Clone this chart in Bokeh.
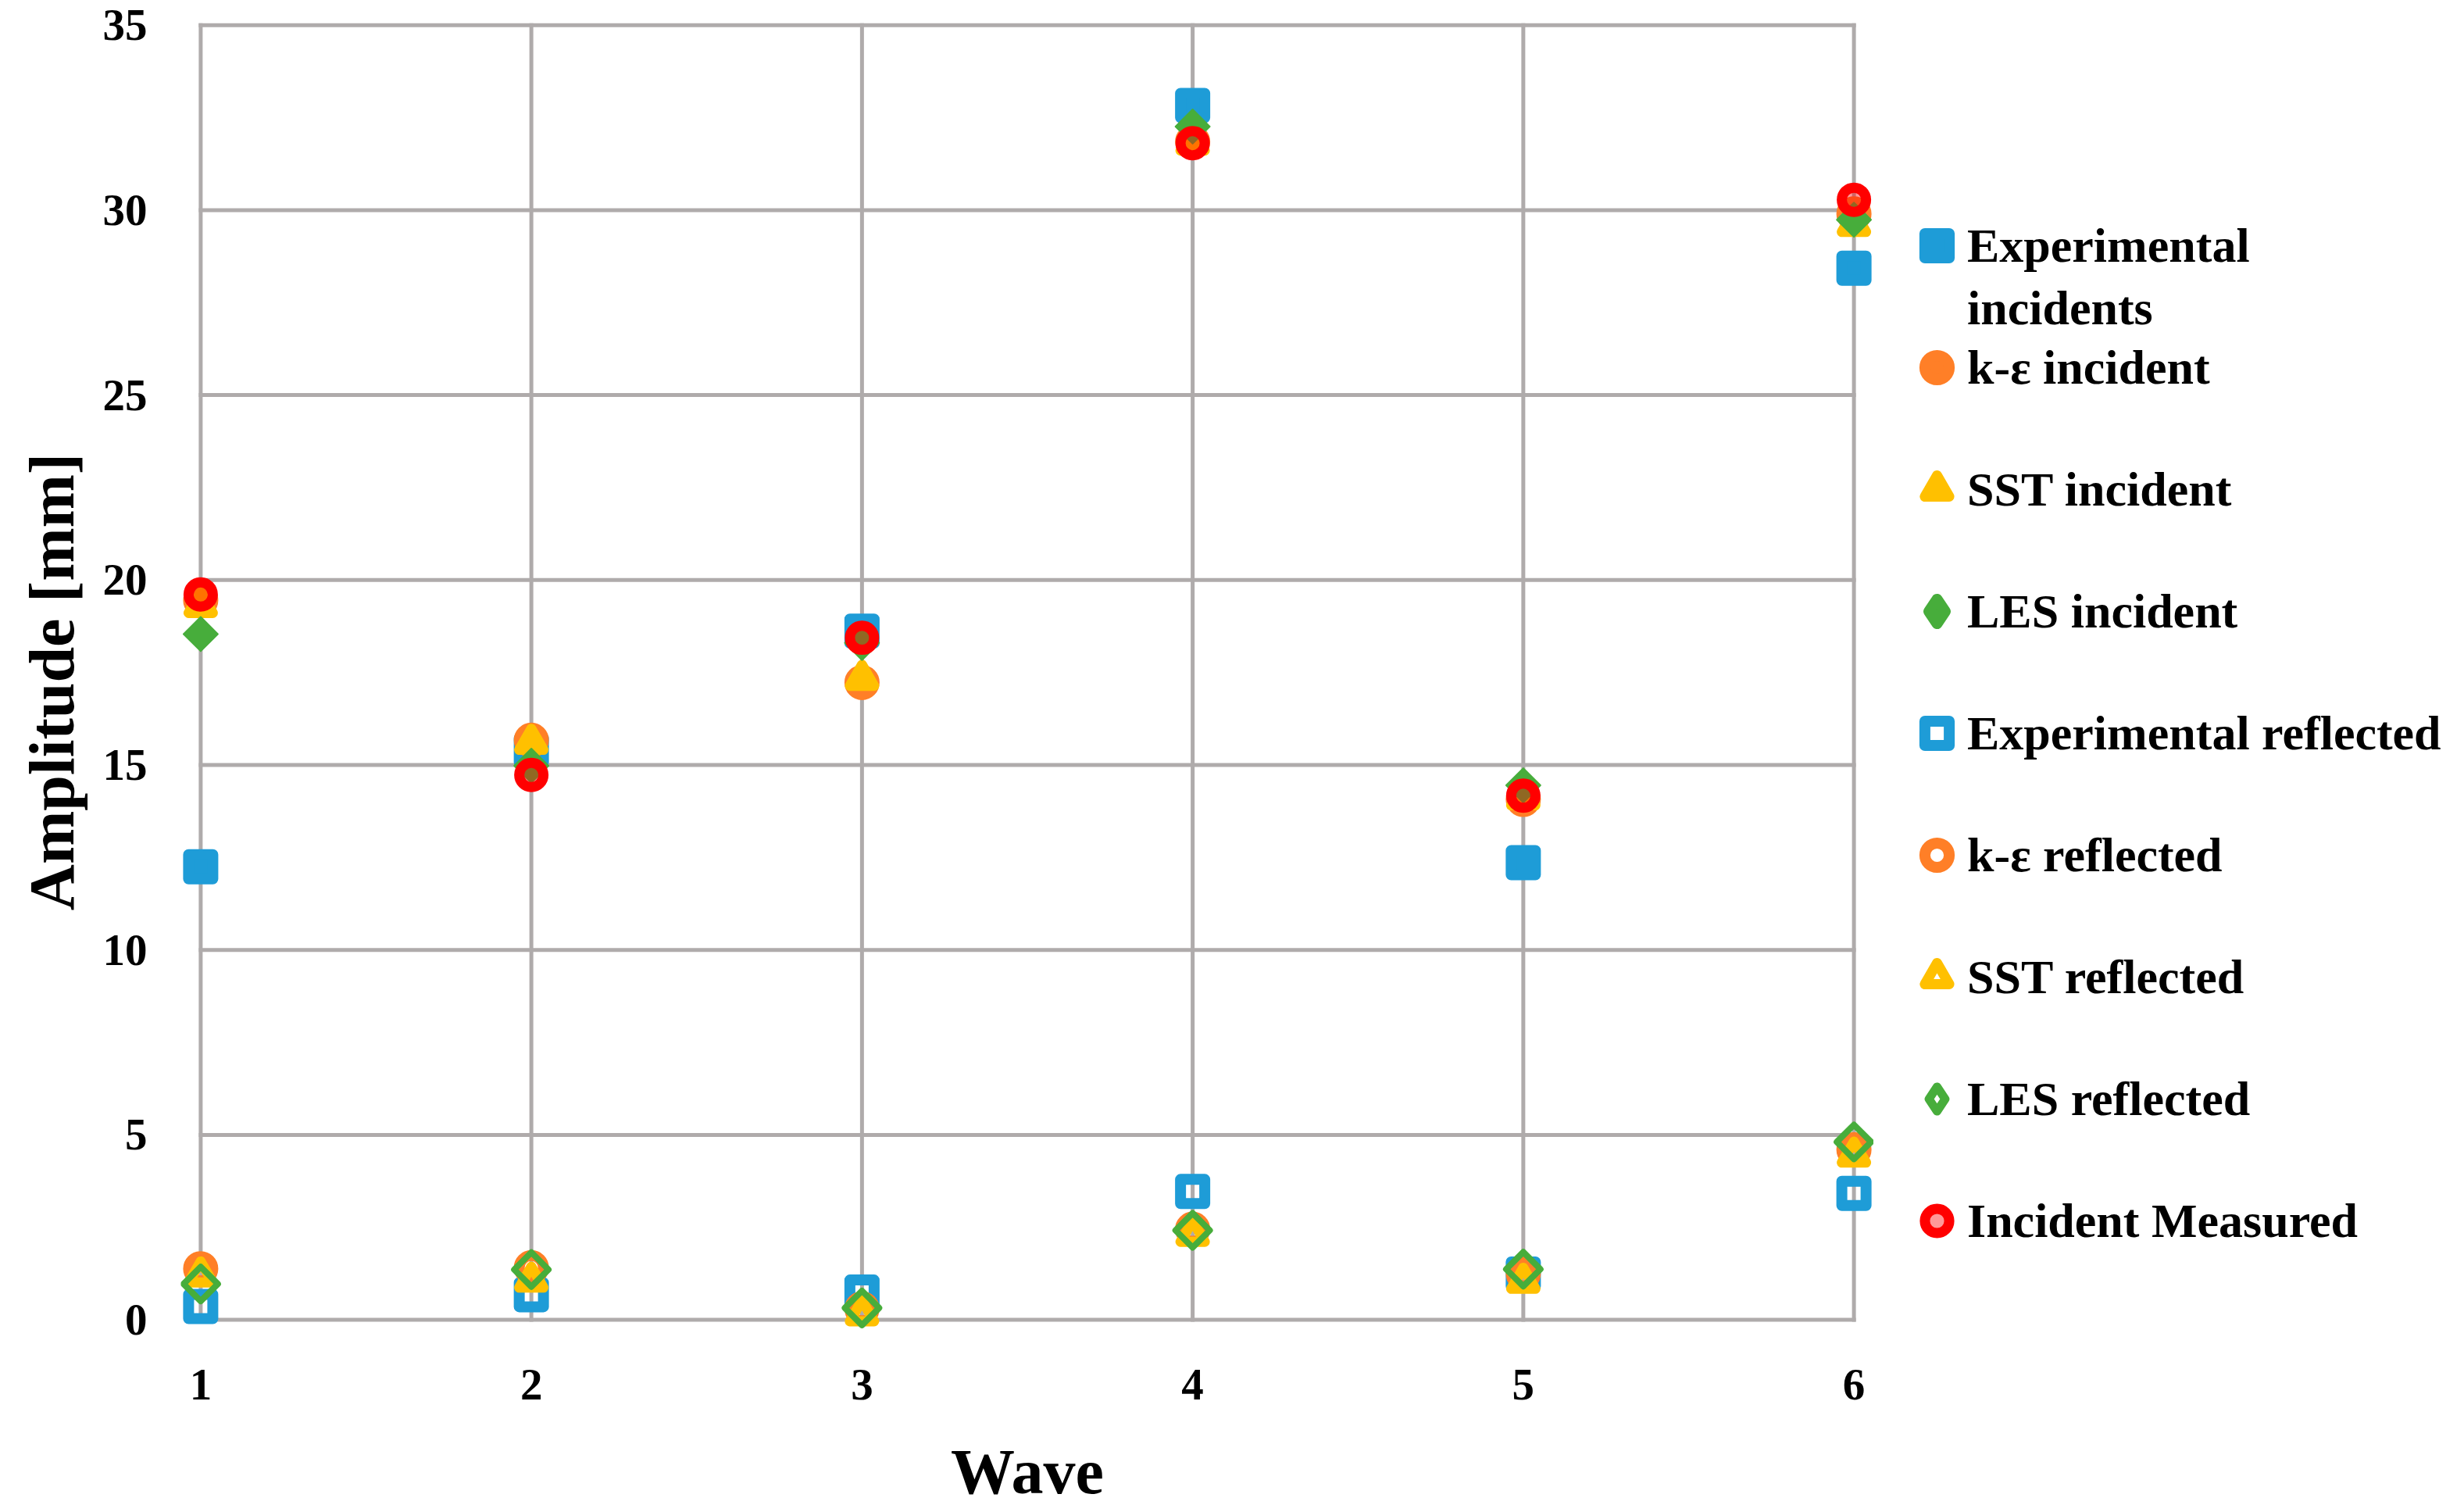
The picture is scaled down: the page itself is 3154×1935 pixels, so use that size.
import numpy as np
from bokeh.plotting import figure
from bokeh.layouts import row
from bokeh.models import Range1d, Legend, LegendItem, FixedTicker
from bokeh.embed import file_html
from bokeh.resources import INLINE

# ---------------- data ----------------
waves = [1, 2, 3, 4, 5, 6]
x_ticks = [1, 2, 3, 4, 5, 6]
y_ticks = [0, 5, 10, 15, 20, 25, 30, 35]

exp_incident = [12.25, 15.4, 18.62, 32.83, 12.36, 28.43]
ke_incident = [19.45, 15.67, 17.23, 31.85, 14.07, 29.9]
sst_incident = [19.3, 15.6, 17.33, 31.8, 14.1, 29.6]
les_incident = [18.54, 14.98, 18.3, 32.26, 14.45, 29.74]
exp_reflected = [0.36, 0.68, 0.75, 3.47, 1.24, 3.42]
ke_reflected = [1.38, 1.41, 0.3, 2.45, 1.25, 4.6]
sst_reflected = [1.2, 1.06, 0.15, 2.3, 1.03, 4.44]
les_reflected = [0.97, 1.36, 0.32, 2.42, 1.37, 4.81]
measured_incident = [19.61, 14.73, 18.44, 31.81, 14.17, 30.28]

labels = ["Experimental incidents", "k-ε incident", "SST incident", "LES incident",
          "Experimental reflected", "k-ε reflected", "SST reflected", "LES reflected",
          "Incident Measured"]

# ---------------- style ----------------
FONT = "Liberation Serif"
GRID = "#AFABAB"
BLUE = "#1E9CD7"
ORANGE = "#FF7F27"
YELLOW = "#FFC000"
GREEN = "#47AD3B"
RED = "#FF0000"
S = 31

series = [exp_incident, ke_incident, sst_incident, les_incident, exp_reflected,
          ke_reflected, sst_reflected, les_reflected, measured_incident]

plot_styles = [
    dict(marker="square", fill_color=BLUE, line_color=BLUE, line_width=14, line_join="round"),
    dict(marker="circle", fill_color=ORANGE, line_color=ORANGE, line_width=14),
    dict(marker="triangle", fill_color=YELLOW, line_color=YELLOW, line_width=13, line_join="round"),
    dict(marker="square", angle=np.pi / 4, fill_color=GREEN, line_color=GREEN, line_width=2,
         line_join="round"),
    dict(marker="square", fill_alpha=0, line_color=BLUE, line_width=14, line_join="round"),
    dict(marker="circle", fill_alpha=0, line_color=ORANGE, line_width=14),
    dict(marker="triangle", fill_alpha=0, line_color=YELLOW, line_width=13, line_join="round"),
    dict(marker="square", angle=np.pi / 4, fill_alpha=0, line_color=GREEN, line_width=8,
         line_join="round"),
    dict(marker="circle", fill_color=RED, fill_alpha=0.4, line_color=RED, line_width=13),
]
legend_styles = list(plot_styles)
legend_styles[3] = dict(marker="diamond", fill_color=GREEN, line_color=GREEN, line_width=14,
                        line_join="round")
legend_styles[7] = dict(marker="diamond", fill_alpha=0, line_color=GREEN, line_width=11,
                        line_join="round")

x_range = Range1d(0.94, 6.06)
y_range = Range1d(-0.6, 35.1)

# ---------------- main plot ----------------
p = figure(width=2398, height=1935, output_backend="svg", toolbar_location=None,
           x_range=x_range, y_range=y_range,
           min_border_left=231, min_border_right=0, min_border_top=27,
           min_border_bottom=218)
p.outline_line_color = None
p.grid.visible = False

p.multi_line(xs=[[x, x] for x in x_ticks], ys=[[y_ticks[0], y_ticks[-1]]] * len(x_ticks),
             line_color=GRID, line_width=5, line_cap="square", level="underlay")
p.multi_line(xs=[[x_ticks[0], x_ticks[-1]]] * len(y_ticks), ys=[[y, y] for y in y_ticks],
             line_color=GRID, line_width=5, line_cap="square", level="underlay")

for ax in (p.xaxis, p.yaxis):
    ax.axis_line_color = None
    ax.major_tick_line_color = None
    ax.minor_tick_line_color = None
    ax.major_label_text_font = FONT
    ax.major_label_text_font_style = "bold"
    ax.major_label_text_font_size = "57px"
    ax.major_label_text_color = "black"
    ax.axis_label_text_font = FONT
    ax.axis_label_text_font_style = "bold"
    ax.axis_label_text_font_size = "82px"
    ax.axis_label_text_color = "black"

p.xaxis.ticker = FixedTicker(ticks=x_ticks)
p.yaxis.ticker = FixedTicker(ticks=y_ticks)
p.xaxis.axis_label = "Wave"
p.yaxis.axis_label = "Amplitude [mm]"
p.xaxis.major_label_standoff = 29
p.yaxis.major_label_standoff = 37
p.xaxis.axis_label_standoff = 44
p.yaxis.axis_label_standoff = 17

for ys, st in zip(series, plot_styles):
    p.scatter(waves, ys, size=S, **st)

# ---------------- legend panel ----------------
p2 = figure(width=752, height=1935, output_backend="svg", toolbar_location=None,
            x_range=x_range, y_range=y_range, x_axis_type=None, y_axis_type=None,
            min_border=0)
p2.outline_line_color = None
p2.grid.visible = False

legend_renderers = [p2.scatter(waves, ys, size=S, visible=False, **st)
                    for ys, st in zip(series, legend_styles)]
# blank glyph for the wrapped second line of the first label
blank = p2.scatter(waves, exp_incident, size=S, visible=False, marker="square",
                   fill_alpha=0, line_alpha=0)

common = dict(orientation="vertical", spacing=0, padding=0, margin=0, label_standoff=0,
              border_line_color=None, background_fill_alpha=0,
              label_text_font=FONT, label_text_font_style="bold",
              label_text_font_size="62px", label_text_color="black")

first_words = labels[0].split(" ")
legend_a = Legend(items=[LegendItem(label=first_words[0], renderers=[legend_renderers[0]]),
                         LegendItem(label=first_words[1], renderers=[blank])],
                  location=(42, 1283), glyph_width=78, glyph_height=80, label_height=80,
                  **common)
legend_b = Legend(items=[LegendItem(label=l, renderers=[r])
                         for l, r in zip(labels[1:], legend_renderers[1:])],
                  location=(42, 77), glyph_width=78, glyph_height=156, label_height=156,
                  **common)
p2.add_layout(legend_a, "center")
p2.add_layout(legend_b, "center")

open("out.html", "w").write(file_html(row(p, p2), INLINE))
